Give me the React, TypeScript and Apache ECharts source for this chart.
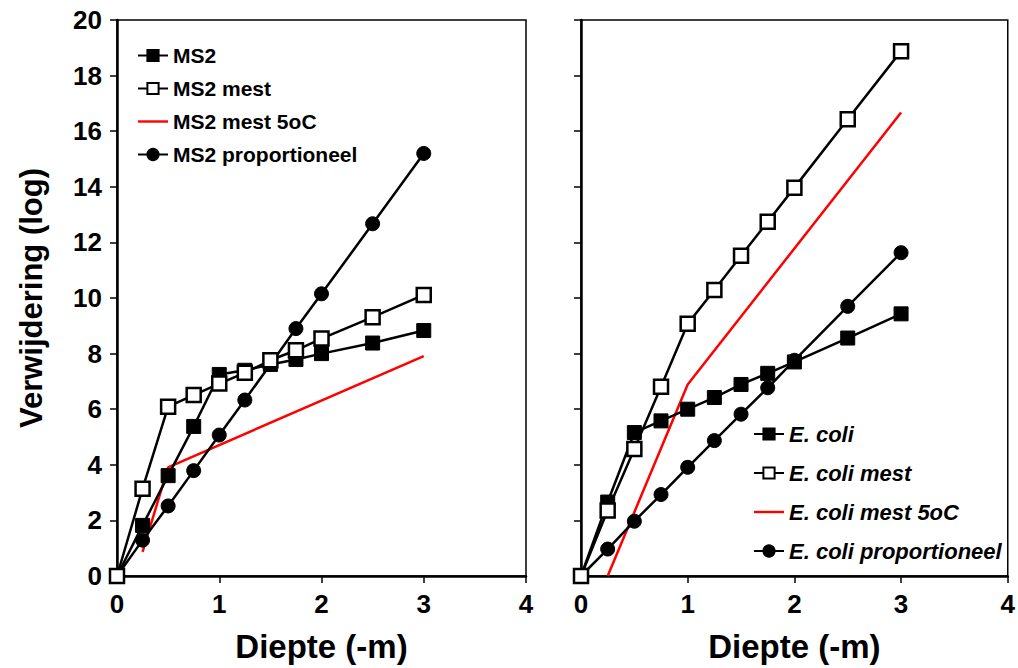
import React, { useEffect, useRef } from "react";
import * as echarts from "echarts";

const depth = [0, 0.25, 0.5, 0.75, 1, 1.25, 1.5, 1.75, 2, 2.5, 3];

const ms2 = [0, 1.82, 3.61, 5.38, 7.25, 7.4, 7.61, 7.79, 8.0, 8.38, 8.83];
const ms2Mest = [0, 3.14, 6.09, 6.51, 6.92, 7.31, 7.76, 8.12, 8.54, 9.31, 10.11];
const ms2Mest5Depth = [0.25, 0.5, 3];
const ms2Mest5 = [0.87, 3.91, 7.91];
const ms2Prop = [0, 1.29, 2.52, 3.79, 5.07, 6.33, 7.61, 8.9, 10.15, 12.67, 15.2];

const ecoli = [0, 2.66, 5.16, 5.58, 6.0, 6.42, 6.89, 7.29, 7.7, 8.56, 9.43];
const ecoliMest = [0, 2.36, 4.57, 6.81, 9.07, 10.29, 11.52, 12.74, 13.97, 16.43, 18.88];
const ecoliMest5Depth = [0.25, 1, 3];
const ecoliMest5 = [0, 6.89, 16.67];
const ecoliProp = [0, 0.97, 1.97, 2.93, 3.91, 4.87, 5.82, 6.77, 7.76, 9.7, 11.63];

const leftNames = ["MS2", "MS2 mest", "MS2 mest 5oC", "MS2 proportioneel"];
const rightNames = ["E. coli", "E. coli mest", "E. coli mest 5oC", "E. coli proportioneel"];

const FONT = "Liberation Sans, Arial, sans-serif";
const LINE_ICON = "path://M0,0 M30,14 M0,5.8 H30 V8.2 H0 Z";

const zip = (xs: number[], ys: number[]) => xs.map((x, i) => [x, ys[i]]);

export default function App() {
  const ref = useRef<HTMLDivElement>(null);
  useEffect(() => {
    if (!ref.current) return;
    const chart = echarts.init(ref.current, undefined, { renderer: "svg" });

    const mkX = (gi: number) => ({
      type: "value",
      gridIndex: gi,
      min: 0,
      max: 4,
      interval: 1,
      name: "Diepte (-m)",
      nameLocation: "middle",
      nameGap: 54,
      nameTextStyle: { fontFamily: FONT, fontWeight: "bold", fontSize: 33, color: "#000" },
      axisLine: { show: true, onZero: false, lineStyle: { color: "#000", width: 2.5 } },
      axisTick: { show: true, inside: false, length: 7, lineStyle: { color: "#000", width: 1.5 } },
      axisLabel: { fontFamily: FONT, fontWeight: "bold", fontSize: 26, color: "#000", margin: 15 },
      splitLine: { show: false },
    });
    const mkY = (gi: number, labels: boolean) => ({
      type: "value",
      gridIndex: gi,
      min: 0,
      max: 20,
      interval: 2,
      name: labels ? "Verwijdering (log)" : "",
      nameLocation: "middle",
      nameGap: 70,
      nameTextStyle: { fontFamily: FONT, fontWeight: "bold", fontSize: 31, color: "#000" },
      axisLine: { show: true, onZero: false, lineStyle: { color: "#000", width: 2.5 } },
      axisTick: { show: true, inside: false, length: 7, lineStyle: { color: "#000", width: 1.5 } },
      axisLabel: { show: labels, fontFamily: FONT, fontWeight: "bold", fontSize: 26, color: "#000", margin: 15 },
      splitLine: { show: false },
    });

    const base = (name: string, data: number[][], gi: number) => ({
      name,
      type: "line",
      xAxisIndex: gi,
      yAxisIndex: gi,
      data,
      clip: false,
      lineStyle: { color: "#000", width: 2.5 },
    });
    const filledSq = (name: string, data: number[][], gi: number) => ({
      ...base(name, data, gi),
      symbol: "rect",
      symbolSize: 14,
      itemStyle: { color: "#000", borderColor: "#000", borderWidth: 1 },
    });
    const openSq = (name: string, data: number[][], gi: number) => ({
      ...base(name, data, gi),
      symbol: "rect",
      symbolSize: 14,
      itemStyle: { color: "#fff", borderColor: "#000", borderWidth: 2.5 },
    });
    const circ = (name: string, data: number[][], gi: number) => ({
      ...base(name, data, gi),
      symbol: "circle",
      symbolSize: 14,
      itemStyle: { color: "#000", borderColor: "#000", borderWidth: 1 },
    });
    const red = (name: string, data: number[][], gi: number) => ({
      ...base(name, data, gi),
      symbol: "none",
      lineStyle: { color: "#ff0000", width: 2.5 },
      itemStyle: { color: "#ff0000" },
    });

    const legendData = (names: string[]) =>
      names.map((n, i) => (i === 2 ? { name: n, icon: LINE_ICON } : { name: n }));

    chart.setOption({
      animation: false,
      backgroundColor: "#fff",
      grid: [
        { left: 117, right: 492, top: 20, bottom: 87, show: true, borderColor: "#000", borderWidth: 1.5, backgroundColor: "transparent" },
        { left: 581, right: 8, top: 20, bottom: 87, show: true, borderColor: "#000", borderWidth: 1.5, backgroundColor: "transparent" },
      ],
      xAxis: [mkX(0), mkX(1)],
      yAxis: [mkY(0, true), mkY(1, false)],
      legend: [
        {
          orient: "vertical",
          itemWidth: 30,
          itemHeight: 14,
          selectedMode: false,
          padding: 0,
          left: 137,
          top: 45,
          itemGap: 12,
          data: legendData(leftNames),
          textStyle: { fontFamily: FONT, fontWeight: "bold", fontSize: 21, color: "#000" },
        },
        {
          orient: "vertical",
          itemWidth: 30,
          itemHeight: 14,
          selectedMode: false,
          padding: 0,
          left: 753,
          top: 423,
          itemGap: 17,
          data: legendData(rightNames),
          textStyle: { fontFamily: FONT, fontWeight: "bold", fontStyle: "italic", fontSize: 22, color: "#000" },
        },
      ],
      series: [
        red(leftNames[2], zip(ms2Mest5Depth, ms2Mest5), 0),
        circ(leftNames[3], zip(depth, ms2Prop), 0),
        filledSq(leftNames[0], zip(depth, ms2), 0),
        openSq(leftNames[1], zip(depth, ms2Mest), 0),
        red(rightNames[2], zip(ecoliMest5Depth, ecoliMest5), 1),
        circ(rightNames[3], zip(depth, ecoliProp), 1),
        filledSq(rightNames[0], zip(depth, ecoli), 1),
        openSq(rightNames[1], zip(depth, ecoliMest), 1),
      ],
    });
    return () => chart.dispose();
  }, []);
  return <div ref={ref} style={{ position: "fixed", left: 0, top: 0, width: 1018, height: 668 }} />;
}
